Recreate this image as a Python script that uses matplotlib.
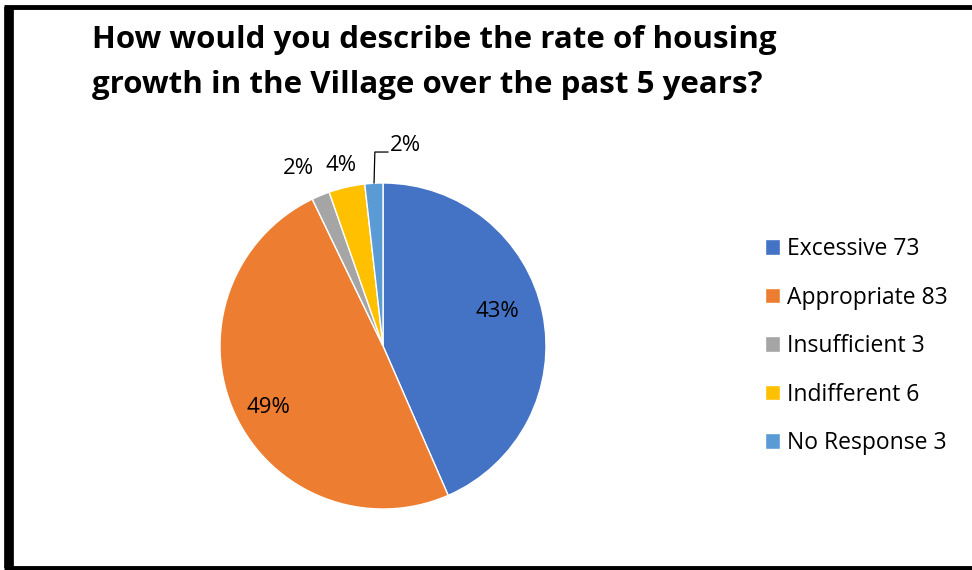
import matplotlib.pyplot as plt
from matplotlib.lines import Line2D

# data
categories = ["Excessive", "Appropriate", "Insufficient", "Indifferent", "No Response"]
counts = [73, 83, 3, 6, 3]
colors = ["#4472C4", "#ED7D31", "#A5A5A5", "#FFC000", "#5B9BD5"]
title = "How would you describe the rate of housing\ngrowth in the Village over the past 5 years?"

plt.rcParams['font.family'] = ['Open Sans', 'DejaVu Sans']

W, H = 972, 570
fig = plt.figure(figsize=(W / 100, H / 100), dpi=100)

# black frame (cut off on the right side like the screenshot)
px = lambda x, y: (x / W, 1 - y / H)
for (x0, y0), (x1, y1), lw in [((8.5, 7), (8.5, 568), 7),
                                ((4, 7), (980, 7), 3.5),
                                ((4, 567.5), (980, 567.5), 3.5)]:
    a, b = px(x0, y0)
    c, d = px(x1, y1)
    fig.add_artist(Line2D([a, c], [b, d], color="black", linewidth=lw,
                          transform=fig.transFigure, solid_capstyle="butt"))

cx, cy, r = 383, 346, 163
ax = fig.add_axes([(cx - r) / W, (H - cy - r) / H, 2 * r / W, 2 * r / H])
total = sum(counts)
pct = [round(100 * c / total) for c in counts]

wedges, _ = ax.pie(counts, colors=colors, startangle=90, counterclock=False,
                   wedgeprops=dict(linewidth=1, edgecolor="white"))
ax.set_xlim(-1, 1)
ax.set_ylim(-1, 1)
ax.set_aspect("equal")
ax.axis("off")

# percent labels
fs = 16
ax.text(0.70, 0.21, f"{pct[0]}%", ha="center", va="center", fontsize=fs)
ax.text(-0.70, -0.38, f"{pct[1]}%", ha="center", va="center", fontsize=fs)
ax.text(-0.52, 1.09, f"{pct[2]}%", ha="center", va="center", fontsize=fs)
ax.text(-0.26, 1.11, f"{pct[3]}%", ha="center", va="center", fontsize=fs)
ax.text(0.04, 1.23, f"{pct[4]}%", ha="left", va="center", fontsize=fs)
ax.plot([-0.055, -0.05, 0.03], [1.0, 1.19, 1.19], color="black", linewidth=0.9, clip_on=False)

fig.text(92 / W, 1 - 25 / H, title, ha="left", va="top", fontsize=22.5, fontweight="bold",
         linespacing=1.65)

labels = [f"{c} {n}" for c, n in zip(categories, counts)]
fig.legend(wedges, labels, loc="upper left", bbox_to_anchor=(765 / W, 1 - 237 / H),
           frameon=False, fontsize=16.5, handlelength=0.65, handleheight=0.65,
           handletextpad=0.3, labelspacing=1.07, borderpad=0, borderaxespad=0)

fig.savefig("out.png", dpi=100)
